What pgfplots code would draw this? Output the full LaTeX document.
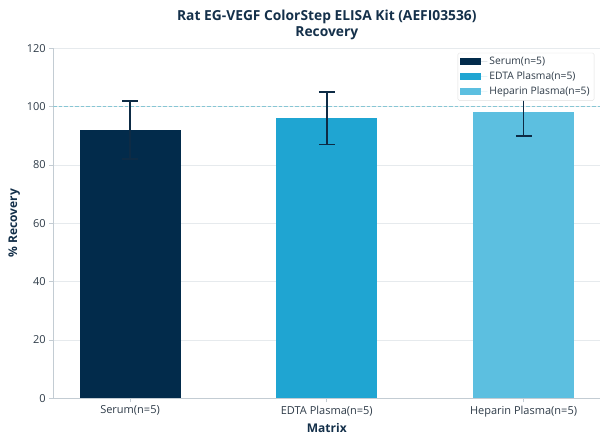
\documentclass[border=0pt]{standalone}
\usepackage{fontspec}
\setmainfont{Open Sans}
\usepackage{pgfplots}
\pgfplotsset{compat=1.18}
\definecolor{cA}{HTML}{022B4B}
\definecolor{cB}{HTML}{1FA5D2}
\definecolor{cC}{HTML}{5CBFE0}
\definecolor{errc}{HTML}{0D2B45}
\definecolor{titlec}{HTML}{14304A}
\definecolor{tickc}{HTML}{2E3B48}
\definecolor{gridc}{HTML}{E6EAED}
\definecolor{spinec}{HTML}{C3CCD3}
\definecolor{dashc}{HTML}{86C6D4}
\begin{document}
\begin{tikzpicture}
\begin{axis}[name=ax, scale only axis, width=547pt, height=350pt,
  xmin=-0.39, xmax=2.39, ymin=0, ymax=120,
  ytick={0,20,...,120},
  xtick={0,1,2},
  xticklabels={Serum(n=5),EDTA Plasma(n=5),Heparin Plasma(n=5)},
  axis x line*=bottom, axis y line*=left,
  axis line style={spinec, line width=0.8pt},
  tick align=outside, major tick length=4pt,
  tick style={spinec, line width=0.8pt},
  ymajorgrids, grid style={gridc, line width=0.8pt},
  ticklabel style={font=\fontsize{11}{13}\selectfont, text=tickc},
  /pgf/number format/assume math mode=true,
  xlabel={Matrix}, ylabel={\% Recovery},
  label style={font=\fontsize{12}{14}\selectfont\bfseries, text=titlec},
  title={Rat EG-VEGF ColorStep ELISA Kit (AEFI03536)\\Recovery},
  title style={align=center, font=\fontsize{13.8}{16}\selectfont\bfseries, text=titlec, yshift=-1pt},
  ybar, bar width=0.513, bar shift=0pt,
  legend style={at={(1,1)}, anchor=north east, xshift=-6pt, yshift=-4.5pt,
    font=\fontsize{10.3}{12}\selectfont, text=tickc, draw=gray!25, rounded corners=1.5pt,
    cells={anchor=west}, row sep=1.5pt, inner sep=2.5pt},
  legend image code/.code={\fill[#1, sharp corners] (0pt,-3.5pt) rectangle (21pt,3.5pt); \path (0pt,0pt) -- (27pt,0pt);},
]
\addplot[forget plot, sharp plot, dashc, line width=0.8pt, dash pattern=on 3.5pt off 2pt] coordinates {(-0.39,100) (2.39,100)};
\addplot[fill=cA, draw=none, error bars/.cd, y dir=both, y explicit,
  error bar style={errc, line width=1.6pt}, error mark options={errc, line width=1.6pt, mark size=8pt, rotate=90}]
  coordinates {(0,92) +- (0,10)};
\addplot[fill=cB, draw=none, error bars/.cd, y dir=both, y explicit,
  error bar style={errc, line width=1.6pt}, error mark options={errc, line width=1.6pt, mark size=8pt, rotate=90}]
  coordinates {(1,96) +- (0,9)};
\addplot[fill=cC, draw=none, error bars/.cd, y dir=both, y explicit,
  error bar style={errc, line width=1.6pt}, error mark options={errc, line width=1.6pt, mark size=8pt, rotate=90}]
  coordinates {(2,98) +- (0,8)};
\legend{Serum(n=5),EDTA Plasma(n=5),Heparin Plasma(n=5)}
\end{axis}
\pgfresetboundingbox
\path[use as bounding box] (ax.south west) ++(-53.3pt,-45.7pt) rectangle ++(608pt,444pt);
\end{tikzpicture}
\end{document}
